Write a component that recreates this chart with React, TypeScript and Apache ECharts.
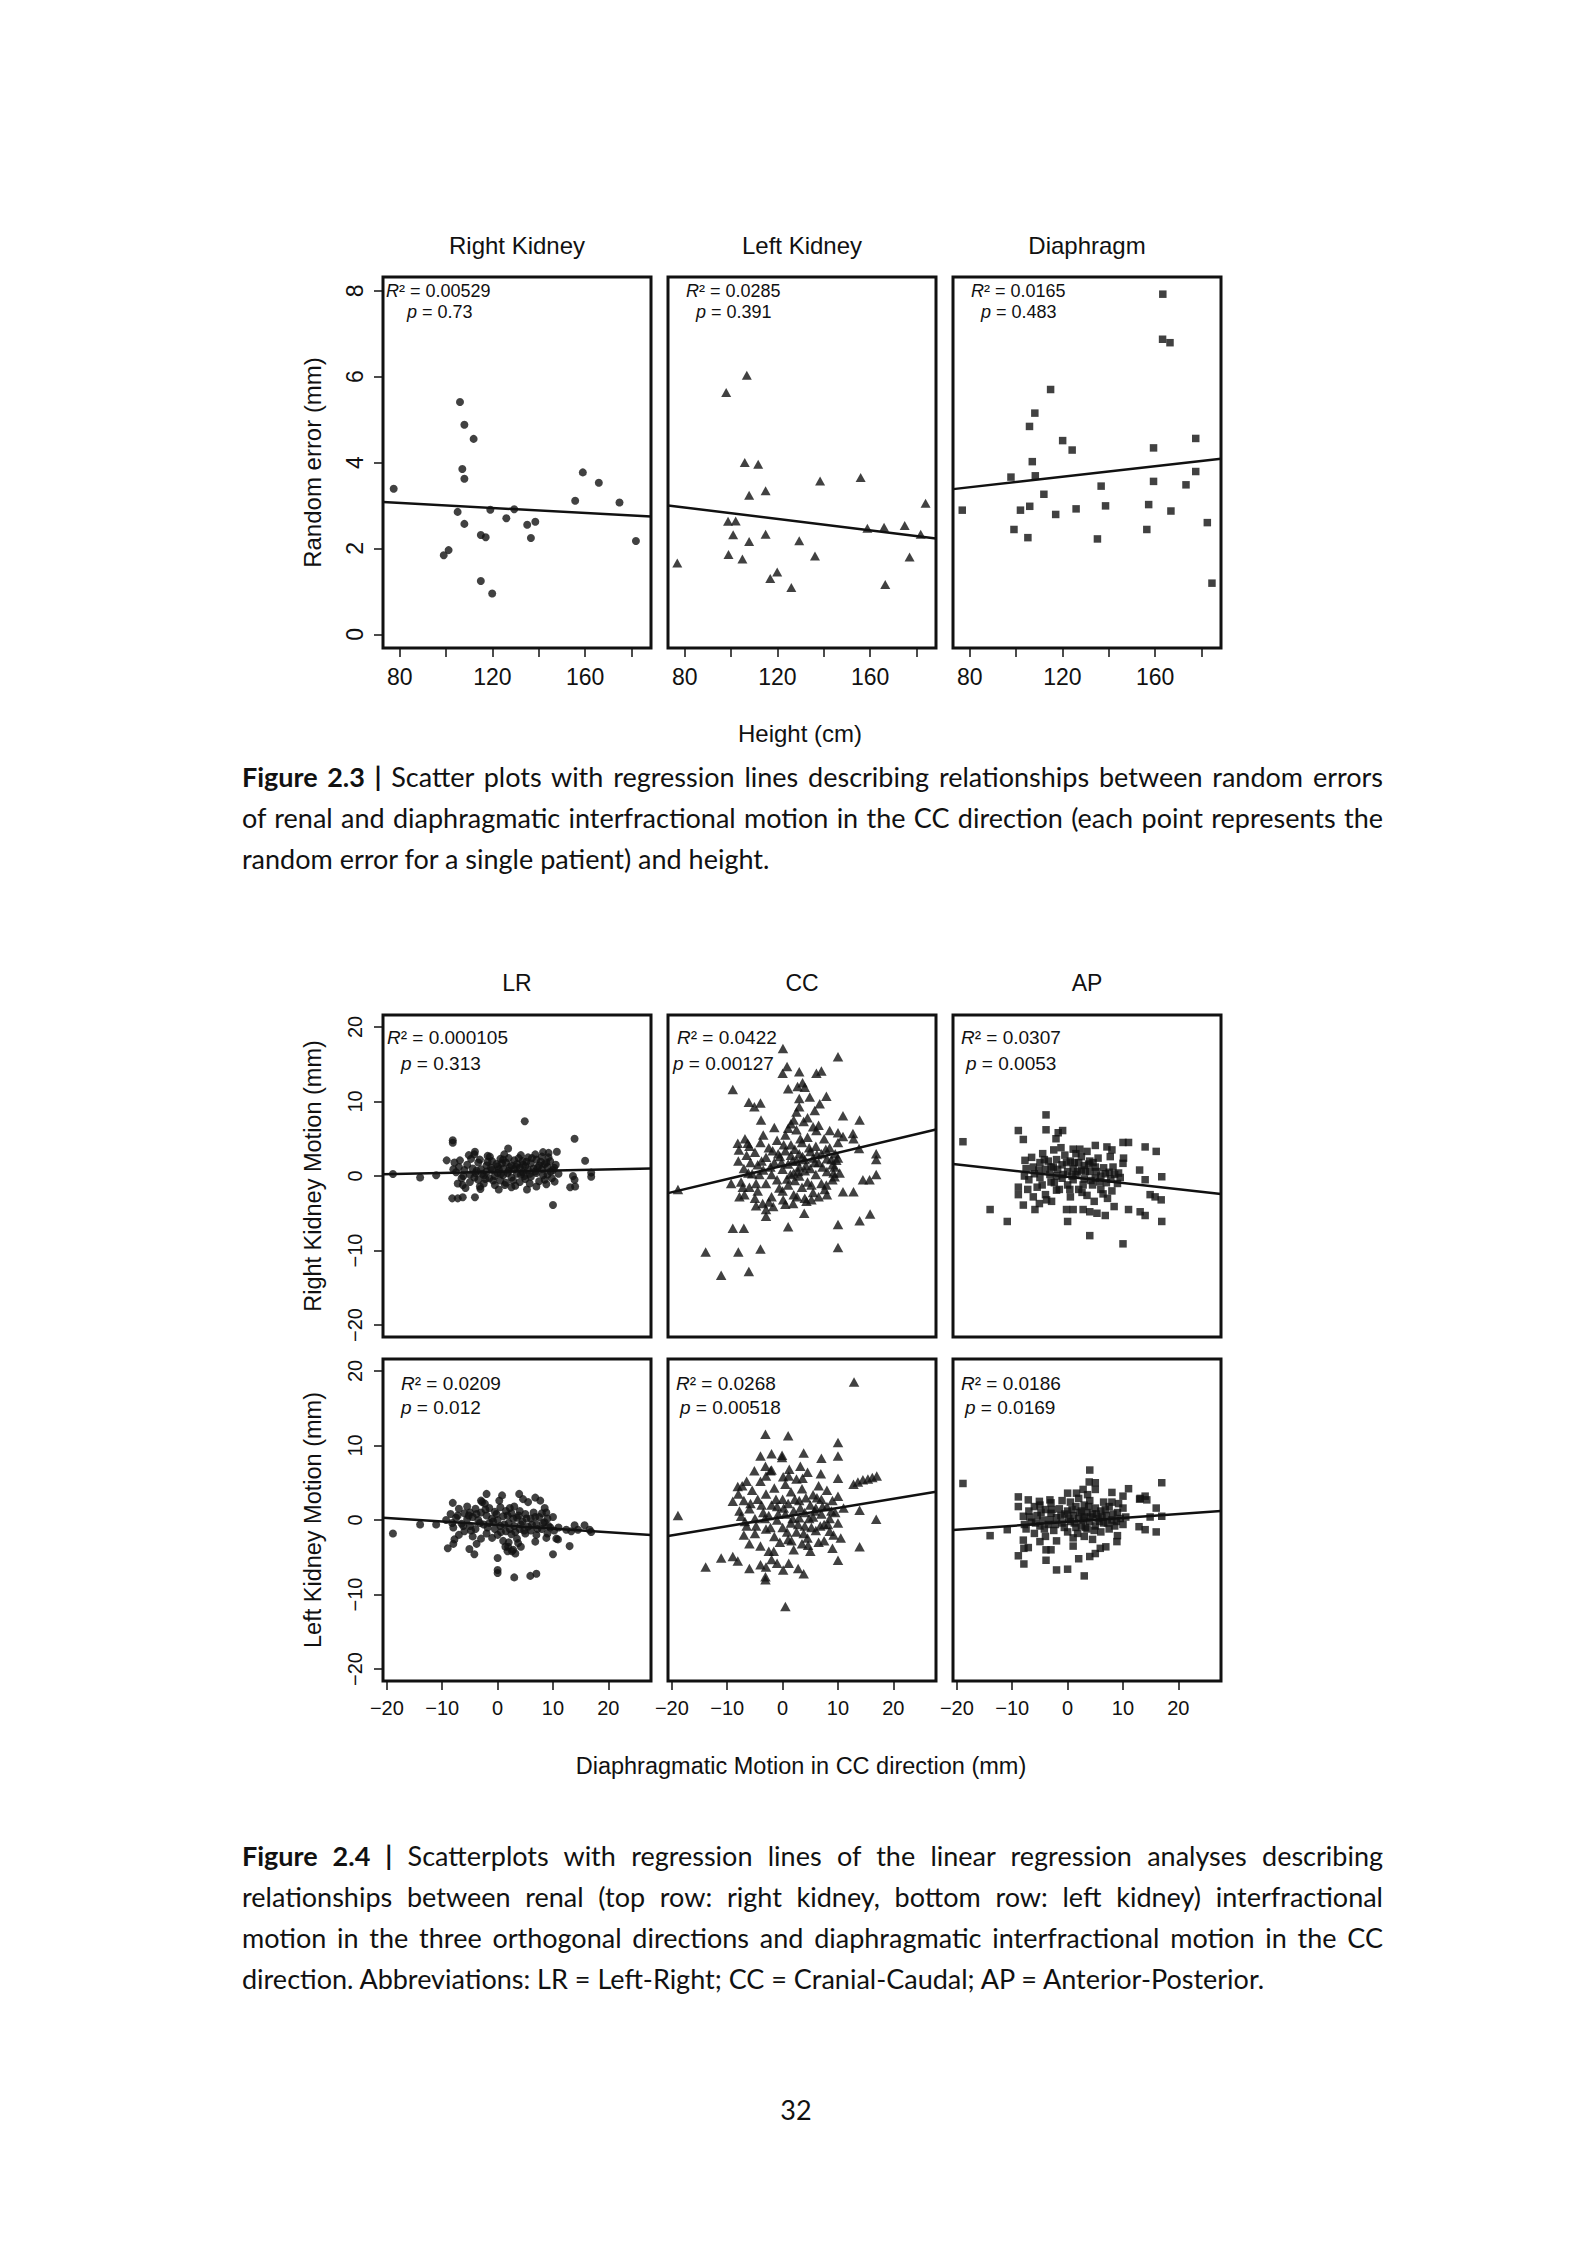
import React, { useEffect, useRef } from 'react';
import * as echarts from 'echarts';

const FONT = '"Liberation Sans", Arial, Helvetica, sans-serif';
const CAPTION_FONT = 'Lato, "Open Sans", sans-serif';
const INK = '#111111';

// ---------------- Figure 2.3 data ----------------
const fig23Titles = ['Right Kidney', 'Left Kidney', 'Diaphragm'];
const heightTicks = [80, 100, 120, 140, 160, 180];
const heightLabels = [80, 120, 160];
const randomErrorTicks = [0, 2, 4, 6, 8];

const rightKidneyRandom = [
  [77.4, 3.39], [106, 5.41], [107.9, 4.88], [111.9, 4.55], [107, 3.85], [107.9, 3.62], [105, 2.85],
  [107.9, 2.57], [119.1, 2.9], [129.4, 2.91], [126, 2.7], [115, 2.31], [117.1, 2.26], [101.1, 1.96],
  [99, 1.84], [115, 1.24], [119.9, 0.95], [135, 2.55], [138.5, 2.62], [136.6, 2.24], [155.7, 3.11],
  [159, 3.77], [165.9, 3.53], [174.8, 3.07], [181.9, 2.17],
];
const leftKidneyRandom = [
  [76.8, 1.66], [97.9, 5.63], [106.8, 6.03], [105.9, 4.0], [111.7, 3.96], [107.8, 3.24], [114.9, 3.34],
  [138.4, 3.57], [155.9, 3.65], [183.9, 3.05], [98.7, 2.63], [102, 2.64], [100.9, 2.32], [107.8, 2.16],
  [114.9, 2.33], [98.9, 1.86], [104.9, 1.75], [129.4, 2.18], [136.2, 1.82], [119.9, 1.45], [116.9, 1.3],
  [126, 1.09], [158.8, 2.47], [166, 2.49], [174.9, 2.53], [181.8, 2.33], [177, 1.8], [166.5, 1.16],
];
const diaphragmRandom = [
  [163.3, 7.92], [163.2, 6.87], [166.4, 6.79], [114.9, 5.7], [108.1, 5.15], [105.8, 4.84], [120.1, 4.51],
  [124.2, 4.29], [159.3, 4.34], [177.5, 4.56], [107, 4.02], [97.8, 3.66], [108.3, 3.69], [159.3, 3.56],
  [177.5, 3.79], [173.3, 3.48], [112, 3.26], [136.7, 3.45], [76.8, 2.89], [101.9, 2.89], [105.9, 2.98],
  [117.1, 2.79], [125.9, 2.92], [138.6, 2.99], [157.2, 3.02], [166.8, 2.87], [99.1, 2.44], [105.1, 2.25],
  [135.1, 2.22], [156.4, 2.44], [182.5, 2.6], [184.5, 1.19],
];
const rightKidneyRandomFit = [[72.8, 3.08], [188.4, 2.74]];
const leftKidneyRandomFit = [[72.8, 3.0], [188.4, 2.23]];
const diaphragmRandomFit = [[72.8, 3.38], [188.4, 4.09]];
const fig23R2 = ['0.00529', '0.0285', '0.0165'];
const fig23P = ['0.73', '0.391', '0.483'];

// ---------------- Figure 2.4 data ----------------
const fig24Titles = ['LR', 'CC', 'AP'];
const motionTicks = [-20, -10, 0, 10, 20];

const rightKidneyLR = [
  [-18.9, 0.27], [-14, -0.2], [-11.1, 0.1], [-8.1, 4.8], [-8.1, 4.45], [4.9, 7.35], [1.9, 3.7], [13.9, 5.0],
  [10, -3.9], [-4.1, -2.85], [-8.2, -3.0], [-7.2, -3.0], [-6.3, -2.85], [15.8, 2.05], [16.9, 0.45], [16.9, -0.1],
  [13.6, 0], [13.9, -0.5], [13.1, -1.5], [14, -1.4], [7, -1.4], [5.3, -1.8], [-3.1, -1.75], [-4.1, 3.25],
  [-4.2, 2.9], [8.2, 3.2], [9.2, 3.1], [10.7, 3.25], [-9.2, 2.1], [-1.4, 2.6], [1, 2.2], [-6.3, -1.2],
  [1.3, -1.2], [2.5, -1.5], [10.3, -0.75], [8.5, -0.5],
  [-7.5, 0.5], [-7, 1.2], [-6.5, -0.3], [-6, 0.8], [-5.5, 1.5], [-5, 0.2], [-5, -0.8], [-4.5, 1.0], [-4, 0.4],
  [-3.5, -0.5], [-3.5, 1.8], [-3, 0.9], [-2.5, 0.1], [-2.5, -1.0], [-2, 1.4], [-2, 0.6], [-1.5, -0.3], [-1, 2.0],
  [-1, 0.8], [-0.5, 0.0], [-0.5, -1.2], [0, 1.3], [0, 0.4], [0.5, 2.3], [0.5, -0.6], [1, 1.0], [1, 0.1],
  [1.5, 1.8], [1.5, -0.9], [2, 0.7], [2, 2.4], [2.5, 1.4], [2.5, -0.2], [3, 0.9], [3, 2.1], [3.5, 0.3],
  [3.5, 1.6], [4, -0.8], [4, 1.1], [4.5, 2.0], [4.5, 0.5], [5, 1.3], [5, -0.4], [5.5, 2.5], [5.5, 0.8],
  [6, 1.7], [6, -0.1], [6.5, 1.0], [7, 2.2], [7, 0.4], [7.5, 1.4], [7.5, -0.7], [8, 0.9], [8, 2.6], [8.5, 1.6],
  [9, 0.2], [9, 1.2], [9.5, 2.0], [10, 0.8], [10.5, 1.5], [-8, 0.9], [-6.8, 2.1], [-4.8, 2.3], [-1.8, 2.7],
  [1.2, 2.9], [4.2, 2.8], [6.8, 2.9], [-3.2, -1.4], [0.2, -1.8], [3.2, -1.3], [5.8, -1.0], [8.8, -1.1],
  [-7.2, -1.0], [-5.8, -1.6], [2.2, 1.2], [-0.2, 1.6], [-2.8, 0.3], [4.8, 0.0], [7.8, 1.9], [9.8, -0.3],
  [-7.8, 1.8], [-6.2, 0.0], [-5.2, 2.8], [-4.2, -0.2], [-3.8, 0.7], [-3.2, 2.2], [-2.2, -0.4], [-1.2, 1.1],
  [-0.8, -0.6], [0.2, 0.9], [0.8, 1.7], [1.8, 0.4], [2.8, -0.6], [3.8, 2.4], [4.2, 0.2], [5.2, 1.9], [5.8, 0.3],
  [6.2, 2.4], [6.8, 0.6], [7.2, 1.1], [8.2, 0.1], [8.8, 1.8], [9.2, 2.5], [9.6, 0.6], [10.2, 1.1], [11, 0.3],
  [-1.8, 1.9], [0.6, 0.3], [3.4, 1.2], [4.6, 1.5],
];
const rightKidneyCC = [
  [0.06, 17.1], [10, 16.0], [0.8, 14.7], [0, 13.8], [3, 14.0], [6.1, 13.8], [7, 14.1], [-9, 11.6], [1, 11.7],
  [2.7, 12.0], [3.6, 12.5], [4, 11.9], [4.9, 10.6], [7.9, 10.7], [6.7, 9.7], [5.8, 8.8], [-6.1, 9.9],
  [-5.1, 9.3], [-4, 9.8], [-3.9, 7.5], [3, 10.4], [3, 9.3], [2.5, 8.6], [10.9, 8.1], [13.9, 7.5], [2, 7.5],
  [3.8, 7.3], [5.5, 6.6], [6.1, 6.1], [8.5, 6.1], [10, 5.8], [12.7, 5.7], [12.8, 5.0], [10.9, 5.3], [1, 6.4],
  [-8.1, 4.4], [-7.9, 3.5], [-6.3, 4.4], [16.9, 3.0], [16.9, 2.2], [13.8, 3.7], [16.9, 0.2], [14.5, -0.5],
  [15.7, -0.5], [10.9, -2.1], [12.8, -2.1], [-18.9, -1.8], [-9, -7.0], [-7, -7.0], [1, -6.8], [10, -6.5],
  [13.9, -6.0], [15.8, -5.1], [-13.9, -10.2], [-8, -10.2], [-4, -9.8], [10, -9.6], [-11.1, -13.3],
  [-6.1, -12.8], [-3, -5.4], [-3, -4.5], [3.9, -5.0], [-4.8, -4.0], [-3.6, -3.7], [-1.7, -4.1], [0.1, -3.2],
  [1.9, -3.7], [4.3, -3.4], [5.2, -3.2], [7.6, -1.8], [7.9, -1.2], [-7.8, -2.8], [-6.9, -2.5], [-9.3, -1.0],
  [9.4, -0.1], [10.3, 0.4], [9.4, 1.2], [9.7, 2.1],
  [-8, 2.0], [-7, 1.0], [-6.5, 2.8], [-6, -1.5], [-5.5, 0.3], [-5, 3.2], [-4.5, 1.5], [-4.5, -2.0], [-4, 4.5],
  [-3.5, 0.8], [-3, 2.5], [-3, -1.0], [-2.5, 3.8], [-2, 0.2], [-2, -2.8], [-1.5, 1.8], [-1, 4.8], [-1, -0.5],
  [-0.5, 2.6], [0, 0.9], [0, -2.0], [0.5, 3.4], [0.5, 5.5], [1, 1.6], [1, -1.2], [1.5, 2.8], [1.5, 4.2],
  [2, 0.4], [2, -2.5], [2.5, 2.0], [2.5, 6.2], [3, 3.0], [3, 0.0], [3, 1.2], [3.5, 4.5], [3.5, -1.5], [4, 2.2],
  [4, 0.7], [4.5, 5.2], [4.5, -0.8], [5, 3.3], [5, 1.0], [5.5, -2.2], [5.5, 2.4], [6, 4.0], [6, 0.2],
  [6.5, 1.8], [7, 3.0], [7, -1.0], [7.5, 5.0], [8, 2.3], [8, 0.6], [8.5, 3.8], [9, 1.5], [9, -0.5], [9.5, 3.0],
  [10, 4.5], [10, 2.4], [-7.5, -0.8], [-6, 4.0], [-5, -3.0], [-2.5, -3.5], [0.5, -3.8], [4, -3.0],
  [6.5, -2.8], [8, -2.5], [-3.5, 5.5], [-1.5, 6.5], [1.5, 7.0], [4.5, 7.8], [6.5, 6.8], [-6.8, 5.0],
  [2.2, -0.6], [-0.8, 3.0],
  [-7.2, -1.5], [-5.8, 1.8], [-4.2, 0.2], [-3.8, 2.0], [-2.2, 1.2], [-1.8, 3.4], [-0.2, 1.8], [0.8, -0.4],
  [1.8, 2.0], [2.2, 3.6], [2.8, 0.6], [3.6, 2.6], [4.2, 1.4], [4.8, 3.8], [5.2, -1.2], [5.8, 1.8], [6.2, 2.9],
  [7.2, 1.2], [7.8, 3.6], [8.8, 2.2], [9.2, 0.4], [-6.2, 0.4], [-0.6, -1.6], [1.4, 0.2], [3.2, 5.0],
  [2.6, -2.8], [-4.8, -1.0], [0.2, 4.2],
];
const rightKidneyAP = [
  [-18.9, 4.6], [-3.9, 8.2], [-3.9, 6.2], [-1.7, 5.8], [-0.9, 6.1], [-2.1, 5.0], [-8.9, 6.1], [-8.0, 4.9],
  [5, 4.1], [7.1, 3.9], [8, 3.5], [7.7, 2.6], [10, 4.5], [11, 4.5], [1, 3.6], [14, 3.9], [16, 3.3], [10.1, 2.4],
  [10, 1.7], [13, 0.8], [14, -0.5], [17, -0.1], [-14, -4.5], [-10.9, -6.1], [-8, -3.9], [-5.9, -4.5],
  [-2.9, -3.4], [-0.2, -4.5], [1, -4.5], [0, -6.1], [4, -8.0], [10, -9.1], [2.8, -4.5], [4, -4.8],
  [5.3, -5.0], [6.8, -5.3], [8.4, -4.1], [11, -4.5], [13.1, -4.8], [14, -5.3], [17, -6.1], [14.9, -2.5],
  [15.8, -2.8], [16.9, -3.2], [-8.9, -2.5], [-8.9, -1.5], [-7.7, 2.1], [-5.1, -3.7], [-2, -1.9],
  [-7.5, 1.0], [-7, -0.5], [-6.5, 2.5], [-6, 0.3], [-5.5, -1.5], [-5, 1.8], [-5, -0.2], [-4.5, 3.0], [-4, 0.9],
  [-4, -2.5], [-3.5, 2.0], [-3, -0.8], [-3, 1.2], [-2.5, 3.5], [-2, 0.0], [-2, 2.2], [-1.5, -1.8], [-1, 1.5],
  [-1, -0.3], [-0.5, 2.8], [0, 0.6], [0, -1.2], [0.5, 2.0], [0.5, -2.8], [1, 1.0], [1, -0.5], [1.5, 3.0],
  [1.5, 0.2], [2, 1.8], [2, -1.8], [2.5, 0.8], [2.5, 2.6], [3, -0.4], [3, 1.4], [3.5, 3.3], [3.5, -2.6],
  [4, 0.6], [4, 2.0], [4.5, -1.2], [5, 1.2], [5, -0.3], [5.5, 2.4], [6, 0.0], [6, -1.8], [6.5, 1.1],
  [7, -0.9], [7.5, 0.5], [8, -2.0], [8.5, 0.2], [9, -1.0], [9.5, -0.2], [-6.2, -2.8], [-3.8, -3.2],
  [-1.2, 3.8], [2.2, 3.6], [4.8, -3.4], [7.2, -3.0], [-7.8, 0.0],
  [-7.2, -1.8], [-6.2, 1.2], [-5.2, 0.8], [-4.2, 2.2], [-3.2, 0.2], [-2.6, 1.2], [-1.8, 0.9], [-0.8, 0.2],
  [-0.2, 1.8], [0.8, 0.0], [1.2, 1.8], [1.8, 0.6], [2.8, -1.2], [3.2, 0.6], [3.8, 1.6], [4.2, -0.6], [5.2, 0.6],
  [5.8, -0.8], [6.8, 0.3], [7.8, -0.4], [8.2, 1.2], [9.2, 0.4], [-4.6, -1.2], [-2.4, -0.9], [0.4, -1.8],
  [2.6, -2.2], [4.6, 1.8], [6.4, -2.4],
];
const leftKidneyLR = [
  [-18.9, -1.8], [-14, -0.6], [-11.1, -0.6], [-9.3, 0], [-8.1, 2.3], [-9, -3.8], [-8, -3.2], [-5.1, -3.9],
  [-4.2, -4.6], [-2.0, 3.5], [-3, 2.6], [-2.3, 2.2], [0.8, 3.3], [3.9, 3.5], [6.8, 3.0], [7.7, 2.6],
  [8.5, 1.6], [8.8, 1.0], [10, 0.4], [0, -5.1], [0, -6.7], [0, -7.1], [3, -7.7], [5.9, -7.5], [7, -7.2],
  [10, -4.6], [13, -3.5], [13.9, -0.7], [14.5, -1.3], [15.7, -0.7], [16.6, -1.3], [16.9, -1.6], [12.4, -1.3],
  [13.3, -1.5], [10.6, -2.5], [10.9, -2.6], [2.2, 1.6], [1.9, -3.6], [2.8, -4.0], [3.7, -3.1],
  [-8.5, 0.8], [-8, -1.0], [-7.5, 0.3], [-7, -2.0], [-7, 1.5], [-6.5, -0.5], [-6, 0.9], [-6, -1.5], [-5.5, 0.1],
  [-5.5, 1.8], [-5, -0.8], [-5, 1.0], [-4.5, -2.2], [-4.5, 0.4], [-4, 1.5], [-4, -1.2], [-3.5, 0.0],
  [-3, -2.5], [-3, 1.0], [-2.5, -0.6], [-2, 0.6], [-2, -1.8], [-1.5, 1.6], [-1.5, -0.4], [-1, 0.2],
  [-1, -2.4], [-0.5, 1.1], [-0.5, -1.2], [0, 0.0], [0, -2.0], [0.5, 1.7], [0.5, -0.8], [1, 0.5], [1, -2.8],
  [1.5, -1.5], [1.5, 1.2], [2, -0.4], [2, -3.0], [2.5, 0.9], [2.5, -1.9], [3, -0.8], [3, 1.8], [3.5, 0.3],
  [3.5, -2.5], [4, -1.2], [4, 1.2], [4.5, -0.2], [5, -1.8], [5, 0.8], [5.5, -0.9], [5.5, 2.4], [6, 0.2],
  [6, -1.4], [6.5, 1.0], [7, -0.6], [7, -2.0], [7.5, 0.4], [8, -1.2], [8, 0.9], [8.5, -0.3], [9, -1.8],
  [9, 0.2], [9.5, -1.0], [-7.8, -2.6], [-2.8, 2.4], [0.3, 2.6], [4.6, 2.8], [-3.8, -3.2], [1.8, -4.2],
  [4.2, -3.6], [3.2, -4.5], [6.8, -2.9], [8.8, -2.4],
  [-8.2, -0.4], [-7.2, 0.6], [-6.2, -0.8], [-5.2, 0.6], [-4.8, -1.4], [-3.8, 0.8], [-3.2, -0.4], [-2.2, 1.4],
  [-1.8, -1.0], [-0.8, -0.2], [-0.2, 0.8], [0.6, -1.6], [1.2, -0.6], [1.8, 0.6], [2.2, -1.2], [2.8, 0.2],
  [3.2, -1.6], [3.8, 0.6], [4.2, -0.6], [4.8, -1.4], [5.2, 0.2], [6.2, -0.6], [6.8, 0.4], [7.2, -1.2],
  [8.2, -0.4], [9.2, -0.8], [10.2, -1.4], [11, -1.0], [1.4, -3.6], [2.6, -4.2],
];
const leftKidneyCC = [
  [12.9, 18.5], [-18.9, 0.6], [-3.1, 11.5], [1, 11.3], [10, 10.4], [10, 8.6], [-4, 8.6], [-2, 8.9],
  [-0.1, 8.7], [-0.1, 8.4], [3.8, 9.0], [7, 8.3], [-5.1, 6.6], [-3.1, 7.2], [-2, 6.7], [-3, 5.9], [0.1, 5.8],
  [1.1, 5.9], [6.9, 6.2], [12.8, 4.8], [13.6, 5.1], [14.5, 5.4], [15.4, 5.5], [16.2, 5.7], [17, 5.9],
  [10, 5.6], [16.9, 0.1], [13.9, 1.3], [13.9, -3.6], [-13.9, -6.3], [-11.1, -5.1], [-9, -4.9], [-8.1, -5.5],
  [-6, -6.5], [-4, -6.0], [-3, -6.3], [-3.1, -7.6], [-3.1, -8.0], [-2, -5.3], [-1, -5.8], [0.1, -6.7],
  [1.1, -5.8], [2.8, -6.5], [3.8, -7.2], [0.5, -11.6], [10, -5.4], [-8.1, 4.5], [-7.3, 4.6], [-9, 2.5],
  [-8, 3.5], [-7.5, 0.5], [-7, -2.0], [-7, 2.6], [-6.5, -0.8], [-6, 1.5], [-6, -3.2], [-5.5, 4.0], [-5, 0.2],
  [-5, -1.8], [-4.5, 2.8], [-4, -3.5], [-4, 5.2], [-3.5, 1.0], [-3, -1.2], [-3, 3.5], [-2.5, -4.2],
  [-2.5, 0.6], [-2, 2.0], [-1.5, -2.2], [-1.5, 4.3], [-1, 0.0], [-1, 1.8], [-0.5, -3.0], [0, 2.8], [0, -1.0],
  [0.5, 4.8], [0.5, 0.8], [1, -2.6], [1, 2.2], [1.5, -0.4], [1.5, 3.8], [2, 1.2], [2, -4.0], [2.5, 5.5],
  [2.5, -1.6], [3, 0.3], [3, 2.6], [3.5, -3.2], [3.5, 4.2], [4, 1.0], [4, -0.8], [4.5, 6.4], [4.5, -2.4],
  [5, 2.0], [5, -4.2], [5.5, 0.4], [5.5, 3.4], [6, -1.4], [6, 1.6], [6.5, 4.6], [6.5, -3.0], [7, 0.8],
  [7, 2.8], [7.5, -0.6], [7.5, -2.8], [8, 1.8], [8, 4.0], [8.5, -1.5], [8.5, 0.2], [9, 2.6], [9, -3.8],
  [9.5, 1.0], [10, 3.2], [10, -0.4], [10.5, -2.4], [11, 1.6], [3.2, 7.2], [1.2, 6.8], [-2.2, 6.6],
  [-6.5, 5.2],
  [-7.8, 1.2], [-6.8, -0.2], [-5.8, 2.2], [-4.8, -0.8], [-3.8, 2.0], [-3.2, 0.2], [-2.2, -1.0], [-1.2, 2.8],
  [-0.8, 0.8], [0.2, 1.6], [0.8, -1.6], [1.8, 0.2], [2.2, 2.8], [2.8, -0.6], [3.2, 1.6], [3.8, -1.8],
  [4.2, 3.0], [4.8, 0.2], [5.2, -1.0], [5.8, 1.2], [6.2, 3.0], [6.8, -0.8], [7.2, 1.8], [8.2, -0.6],
  [8.8, 1.2], [9.2, -2.0], [-1.6, -4.2], [1.6, -2.8], [4.6, -3.4], [3.6, 5.6],
];
const leftKidneyAP = [
  [-18.9, 4.9], [4, 6.7], [3.9, 5.1], [5, 5.0], [2.8, 4.1], [5, 4.1], [0, 3.6], [11, 4.2], [17, 5.0],
  [8, 3.7], [10, 3.2], [13, 2.8], [14, 3.2], [16, 1.6], [17, 0.5], [14.9, 0.4], [-8.9, 3.1], [-8.9, 1.8],
  [-7.1, 2.7], [-5.1, 2.5], [-3.2, 2.7], [-14, -2.1], [-10.9, -1.3], [-8, -2.7], [-7.1, -3.7], [-7.9, -3.8],
  [-8.9, -4.8], [-7.9, -5.9], [-5, -2.9], [-3.9, -4.0], [-3.9, -5.4], [-3, -4.0], [-2, -6.7], [0, -6.6],
  [3, -7.5], [2, -5.2], [1, -3.5], [4, -4.9], [5, -4.5], [5.9, -3.8], [6.9, -3.6], [8.9, -2.9], [9, -2.1],
  [12.9, -0.9], [14, -1.3], [16, -1.6], [14.3, 2.7], [13.1, 2.9],
  [-8, 0.5], [-7.5, -1.2], [-7, 1.2], [-6.5, -0.3], [-6, 1.8], [-6, -1.8], [-5.5, 0.6], [-5, -0.8],
  [-5, 2.0], [-4.5, 0.0], [-4, 1.4], [-4, -2.2], [-3.5, -0.6], [-3, 0.9], [-3, 2.3], [-2.5, -1.4], [-2, 0.3],
  [-2, -2.8], [-1.5, 1.5], [-1, -0.4], [-1, 2.6], [-0.5, 0.8], [0, -1.6], [0, 1.2], [0.5, -0.2], [0.5, 2.4],
  [1, 0.6], [1, -2.4], [1.5, 1.8], [1.5, -1.0], [2, 0.2], [2, 2.9], [2.5, -0.8], [2.5, 1.2], [3, -2.2],
  [3, 0.4], [3, 2.0], [3.5, -1.2], [3.5, 1.0], [4, -0.2], [4, 2.6], [4.5, 0.8], [4.5, -2.6], [5, 1.6],
  [5, -0.8], [5.5, 0.2], [6, -1.6], [6, 1.2], [6.5, 2.4], [6.5, -0.4], [7, 0.6], [7.5, -1.2], [7.5, 1.8],
  [8, 0.0], [8, 2.4], [8.5, -0.8], [9, 1.0], [9.5, 0.2], [10, -0.6], [10, 1.6], [10.5, 0.4],
  [-7.8, -0.6], [-6.8, 0.4], [-5.8, -0.4], [-4.8, 1.0], [-4.2, -1.2], [-3.2, 0.0], [-2.8, 1.4], [-2.2, -0.6],
  [-1.2, 0.6], [-0.6, -1.0], [0.2, 0.2], [0.8, 1.4], [1.2, -0.4], [1.8, -1.8], [2.2, 1.0], [2.8, 0.0],
  [3.2, -1.0], [3.8, 1.8], [4.2, 0.4], [4.8, -1.4], [5.2, 0.8], [5.8, -0.2], [6.2, 0.4], [6.8, 1.4],
  [7.2, -0.4], [8.2, 0.8], [8.8, -0.2], [9.2, 2.2], [3.6, 3.4], [1.6, 3.6],
];
const rightKidneyLRFit = [[-20.7, 0.22], [27.7, 1.02]];
const rightKidneyCCFit = [[-20.7, -2.3], [27.7, 6.24]];
const rightKidneyAPFit = [[-20.7, 1.6], [27.7, -2.4]];
const leftKidneyLRFit = [[-20.7, 0.31], [27.7, -2.0]];
const leftKidneyCCFit = [[-20.7, -2.15], [27.7, 3.8]];
const leftKidneyAPFit = [[-20.7, -1.34], [27.7, 1.2]];
const fig24R2 = [['0.000105', '0.0422', '0.0307'], ['0.0209', '0.0268', '0.0186']];
const fig24P = [['0.313', '0.00127', '0.0053'], ['0.012', '0.00518', '0.0169']];

// ---------------- layout ----------------
const COL_LEFT = [383, 668, 953];
const PANEL_W = 268;
const F23_TOP = 277;
const F23_H = 371;
const F24_TOP = [1015, 1359];
const F24_H = 322;

const minus = (v: number) => String(v).replace('-', '\u2212');

function statText(x: number, y: number, label: string, value: string, size: number) {
  return {
    type: 'text',
    x,
    y,
    style: {
      text: `{i|${label}}{n|${value}}`,
      rich: {
        i: { fontStyle: 'italic', fontSize: size, fontFamily: FONT, fill: INK, lineHeight: size },
        n: { fontSize: size, fontFamily: FONT, fill: INK, lineHeight: size },
      },
      align: 'left',
      verticalAlign: 'middle',
    },
  };
}

function label(x: number, y: number, text: string, size: number, rotation = 0) {
  return {
    type: 'text',
    x,
    y,
    rotation,
    style: { text, fontSize: size, fontFamily: FONT, fill: INK, align: 'center', verticalAlign: 'middle' },
  };
}

function buildOption() {
  const grids: any[] = [];
  const xAxes: any[] = [];
  const yAxes: any[] = [];
  const series: any[] = [];
  const graphics: any[] = [];

  const gridBase = { show: true, borderColor: INK, borderWidth: 3, backgroundColor: 'transparent', outerBoundsMode: 'none' };
  const tickStyle = { color: INK, width: 1.5 };
  const hiddenLine = { show: false, onZero: false };

  // Figure 2.3
  const f23Data = [rightKidneyRandom, leftKidneyRandom, diaphragmRandom];
  const f23Fits = [rightKidneyRandomFit, leftKidneyRandomFit, diaphragmRandomFit];
  const f23Symbols = [
    { symbol: 'circle', size: 8 },
    { symbol: 'triangle', size: [10, 9] },
    { symbol: 'rect', size: 7.5 },
  ];
  const f23R2Off = [3, 18, 18];
  const f23POff = [24, 28, 28];
  for (let c = 0; c < 3; c++) {
    const idx = grids.length;
    grids.push({ ...gridBase, left: COL_LEFT[c], top: F23_TOP, width: PANEL_W, height: F23_H });
    xAxes.push({
      gridIndex: idx, type: 'value', min: 72.8, max: 188.4,
      axisLine: hiddenLine,
      axisTick: { show: true, length: 9, lineStyle: tickStyle, customValues: heightTicks },
      axisLabel: { show: true, customValues: heightLabels, margin: 17, fontSize: 23, fontFamily: FONT, color: INK },
      splitLine: { show: false },
    });
    yAxes.push({
      gridIndex: idx, type: 'value', min: -0.32, max: 8.32,
      axisLine: hiddenLine,
      axisTick: { show: c === 0, length: 9, lineStyle: tickStyle, customValues: randomErrorTicks },
      axisLabel: { show: c === 0, customValues: randomErrorTicks, rotate: 90, margin: 17, fontSize: 23, fontFamily: FONT, color: INK },
      splitLine: { show: false },
    });
    series.push({
      type: 'scatter', xAxisIndex: idx, yAxisIndex: idx, data: f23Data[c],
      symbol: f23Symbols[c].symbol, symbolSize: f23Symbols[c].size,
      itemStyle: { color: INK }, silent: true,
    });
    series.push({
      type: 'line', xAxisIndex: idx, yAxisIndex: idx, data: f23Fits[c], symbol: 'none',
      lineStyle: { color: INK, width: 2.5 }, silent: true,
    });
    graphics.push(label(COL_LEFT[c] + PANEL_W / 2, 245, fig23Titles[c], 24));
    graphics.push(statText(COL_LEFT[c] + f23R2Off[c], 291, 'R', `\u00B2 = ${fig23R2[c]}`, 18));
    graphics.push(statText(COL_LEFT[c] + f23POff[c], 312, 'p', ` = ${fig23P[c]}`, 18));
  }
  graphics.push(label(312, F23_TOP + F23_H / 2, 'Random error (mm)', 24, Math.PI / 2));
  graphics.push(label(800, 733, 'Height (cm)', 24));

  // Figure 2.4
  const f24Data = [
    [rightKidneyLR, rightKidneyCC, rightKidneyAP],
    [leftKidneyLR, leftKidneyCC, leftKidneyAP],
  ];
  const f24Fits = [
    [rightKidneyLRFit, rightKidneyCCFit, rightKidneyAPFit],
    [leftKidneyLRFit, leftKidneyCCFit, leftKidneyAPFit],
  ];
  const f24Symbols = [
    { symbol: 'circle', size: 8 },
    { symbol: 'triangle', size: [10.5, 9.5] },
    { symbol: 'rect', size: 7.5 },
  ];
  const f24R2Off = [[4, 9, 8], [18, 8, 8]];
  const f24POff = [[18, 5, 13], [18, 12, 12]];
  const f24StatY = [[1037, 1063], [1383, 1407]];
  for (let r = 0; r < 2; r++) {
    for (let c = 0; c < 3; c++) {
      const idx = grids.length;
      grids.push({ ...gridBase, left: COL_LEFT[c], top: F24_TOP[r], width: PANEL_W, height: F24_H });
      xAxes.push({
        gridIndex: idx, type: 'value', min: -20.7, max: 27.7,
        axisLine: hiddenLine,
        axisTick: { show: r === 1, length: 9, lineStyle: tickStyle, customValues: motionTicks },
        axisLabel: { show: r === 1, customValues: motionTicks, margin: 17, fontSize: 20, fontFamily: FONT, color: INK, formatter: minus },
        splitLine: { show: false },
      });
      yAxes.push({
        gridIndex: idx, type: 'value', min: -21.6, max: 21.6,
        axisLine: hiddenLine,
        axisTick: { show: c === 0, length: 9, lineStyle: tickStyle, customValues: motionTicks },
        axisLabel: { show: c === 0, customValues: motionTicks, rotate: 90, margin: 18, fontSize: 20, fontFamily: FONT, color: INK, formatter: minus },
        splitLine: { show: false },
      });
      series.push({
        type: 'scatter', xAxisIndex: idx, yAxisIndex: idx, data: f24Data[r][c],
        symbol: f24Symbols[c].symbol, symbolSize: f24Symbols[c].size,
        itemStyle: { color: INK }, silent: true,
      });
      series.push({
        type: 'line', xAxisIndex: idx, yAxisIndex: idx, data: f24Fits[r][c], symbol: 'none',
        lineStyle: { color: INK, width: 2.5 }, silent: true,
      });
      graphics.push(statText(COL_LEFT[c] + f24R2Off[r][c], f24StatY[r][0], 'R', `\u00B2 = ${fig24R2[r][c]}`, 19));
      graphics.push(statText(COL_LEFT[c] + f24POff[r][c], f24StatY[r][1], 'p', ` = ${fig24P[r][c]}`, 19));
    }
  }
  for (let c = 0; c < 3; c++) graphics.push(label(COL_LEFT[c] + PANEL_W / 2, 983, fig24Titles[c], 23));
  graphics.push(label(313, F24_TOP[0] + F24_H / 2, 'Right Kidney Motion (mm)', 23.5, Math.PI / 2));
  graphics.push(label(313, F24_TOP[1] + F24_H / 2, 'Left Kidney Motion (mm)', 23.5, Math.PI / 2));
  graphics.push(label(801, 1766, 'Diaphragmatic Motion in CC direction (mm)', 23.5));

  return {
    animation: false,
    backgroundColor: '#ffffff',
    grid: grids,
    xAxis: xAxes,
    yAxis: yAxes,
    series,
    graphic: { elements: graphics },
  };
}

const captionLine = (top: number, justify: boolean): React.CSSProperties => ({
  position: 'absolute',
  left: 242,
  top,
  width: 1141,
  height: 41,
  lineHeight: '41px',
  fontFamily: CAPTION_FONT,
  fontSize: 27,
  color: '#111',
  whiteSpace: 'nowrap',
  textAlign: justify ? 'justify' : 'left',
  textAlignLast: justify ? 'justify' : 'left',
});

export default function App() {
  const ref = useRef<HTMLDivElement>(null);
  useEffect(() => {
    if (!ref.current) return;
    const chart = echarts.init(ref.current, undefined, { renderer: 'svg' });
    chart.setOption(buildOption() as any);
    return () => chart.dispose();
  }, []);
  return (
    <div style={{ position: 'absolute', left: 0, top: 0, width: 1594, height: 2250, background: '#fff' }}>
      <div ref={ref} style={{ position: 'absolute', left: 0, top: 0, width: 1594, height: 2250 }} />
      <div style={captionLine(756, true)}>
        <b>Figure 2.3 |</b> Scatter plots with regression lines describing relationships between random errors
      </div>
      <div style={captionLine(797, true)}>
        of renal and diaphragmatic interfractional motion in the CC direction (each point represents the
      </div>
      <div style={captionLine(838, false)}>random error for a single patient) and height.</div>
      <div style={captionLine(1835, true)}>
        <b>Figure 2.4 |</b> Scatterplots with regression lines of the linear regression analyses describing
      </div>
      <div style={captionLine(1876, true)}>
        relationships between renal (top row: right kidney, bottom row: left kidney) interfractional
      </div>
      <div style={captionLine(1917, true)}>
        motion in the three orthogonal directions and diaphragmatic interfractional motion in the CC
      </div>
      <div style={captionLine(1958, false)}>
        direction. Abbreviations: LR = Left-Right; CC = Cranial-Caudal; AP = Anterior-Posterior.
      </div>
      <div
        style={{
          position: 'absolute', left: 746, top: 2089, width: 100, height: 41, lineHeight: '41px',
          textAlign: 'center', fontFamily: CAPTION_FONT, fontSize: 27, color: '#111',
        }}
      >
        32
      </div>
    </div>
  );
}
